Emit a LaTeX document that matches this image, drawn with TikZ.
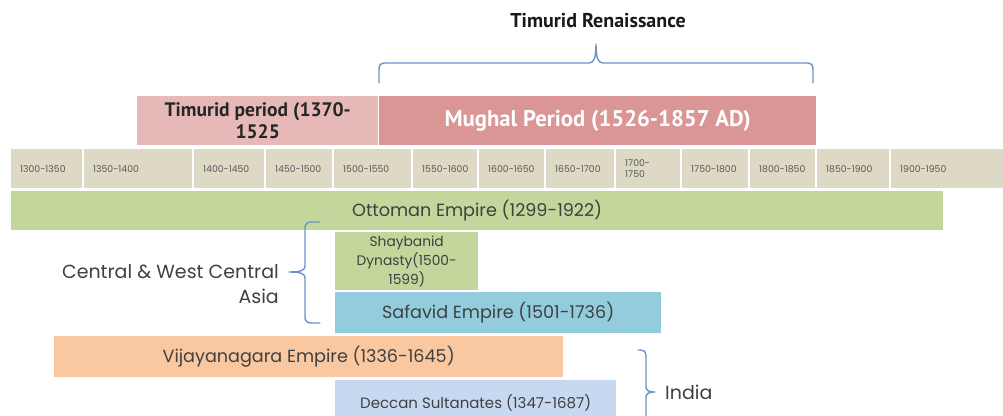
\documentclass[tikz,border=0pt]{standalone}
\usepackage{fontspec}
\setmainfont{Poppins}
\newfontfamily\headfont{PT Sans}
\exhyphenpenalty=10000
\hyphenpenalty=10000
\definecolor{txt}{HTML}{404040}
\definecolor{celltxt}{HTML}{595959}
\definecolor{cellfill}{HTML}{DDD9C4}
\definecolor{timfill}{HTML}{E6B9B8}
\definecolor{mugfill}{HTML}{D99695}
\definecolor{grnfill}{HTML}{C3D69B}
\definecolor{safill}{HTML}{93CDDD}
\definecolor{vijfill}{HTML}{F9C8A0}
\definecolor{decfill}{HTML}{C6D9F1}
\definecolor{bracec}{HTML}{6A93C8}
\tikzset{
  cell/.style={fill=cellfill, draw=none, anchor=north west, minimum height=39pt,
    inner xsep=9pt, inner ysep=0pt, align=left, text=celltxt,
    font=\fontsize{9.3}{10.5}\selectfont},
  bar/.style={draw=none, anchor=north west, inner sep=0pt, align=center, text=txt,
    font=\fontsize{17.6}{20}\selectfont},
  brc/.style={draw=bracec, line width=1.4pt, line cap=round, line join=round},
}
\begin{document}
\begin{tikzpicture}[x=1pt,y=-1pt]
\useasboundingbox (0,0) rectangle (1003,415);
\clip (0,0) rectangle (1003,415);
% timeline cells
\node[cell, text width=53pt] (c1) at (11,149) {1300-1350};
\node[cell, text width=90pt] (c2) at (84,149) {1350-1400};
\node[cell, text width=52pt] (c3) at (194,149) {1400-1450};
\node[cell, text width=48pt] (c4) at (266,149) {1450-1500};
\node[cell, text width=59pt] (c5) at (334,149) {1500-1550};
\node[cell, text width=46pt] (c6) at (413,149) {1550-1600};
\node[cell, text width=47pt] (c7) at (479,149) {1600-1650};
\node[cell, text width=50pt] (c8) at (546,149) {1650-1700};
\node[cell, text width=46pt] (c9) at (616,149) {1700-\\1750};
\node[cell, text width=48pt] (c10) at (682,149) {1750-1800};
\node[cell, text width=47pt] (c11) at (750,149) {1800-1850};
\node[cell, text width=54pt] (c12) at (817,149) {1850-1900};
\node[cell, text width=102pt] (c13) at (891,149) {1900-1950};
% top periods
\node[bar, fill=timfill, minimum width=241pt, minimum height=49pt, text=black!85,
  font=\headfont\bfseries\fontsize{19.5}{22}\selectfont] (timurid) at (137,96) {Timurid period (1370-\\1525};
\node[bar, fill=mugfill, minimum width=437pt, minimum height=49pt, text=white,
  font=\headfont\bfseries\fontsize{22.7}{24}\selectfont] (mughal) at (379,96) {Mughal Period (1526-1857 AD)};
\node[font=\headfont\bfseries\fontsize{20}{22}\selectfont, text=black!90, inner sep=0pt] (ren) at (598,21) {Timurid Renaissance};
% empires
\node[bar, fill=grnfill, minimum width=932pt, minimum height=39pt] (ottoman) at (11,191) {Ottoman Empire (1299-1922)};
\node[bar, fill=grnfill, minimum width=143pt, minimum height=58pt,
  font=\fontsize{13.8}{19}\selectfont] (shay) at (335,232) {Shaybanid\\Dynasty(1500-\\1599)};
\node[bar, fill=safill, minimum width=326pt, minimum height=41pt] (safavid) at (335,292) {Safavid Empire (1501-1736)};
\node[bar, fill=vijfill, minimum width=509pt, minimum height=41pt] (vijay) at (54,336) {Vijayanagara Empire (1336-1645)};
\node[bar, fill=decfill, minimum width=281pt, minimum height=45pt,
  font=\fontsize{15}{17}\selectfont] (deccan) at (335,380) {Deccan Sultanates (1347-1687)};
% region labels
\node[anchor=east, align=right, inner sep=0pt, text=txt, font=\fontsize{19}{25}\selectfont] (asia) at (279,284) {Central \& West Central\\Asia};
\node[anchor=west, inner sep=0pt, text=txt, font=\fontsize{19}{21}\selectfont] (india) at (665,392) {India};
% braces
\draw[brc] (379,83) -- (379,69) .. controls (379,65) and (381,63) .. (385,63)
  -- (589,63) .. controls (594,63) and (596,58) .. (596,44)
  .. controls (596,58) and (598,63) .. (603,63) -- (807,63)
  .. controls (811,63) and (813,65) .. (813,69) -- (813,83);
\draw[brc] (320,222) -- (311,222) .. controls (307,222) and (305,224) .. (305,228)
  -- (305,266) .. controls (305,270) and (302,272) .. (289,272)
  .. controls (302,272) and (305,274) .. (305,278) -- (305,317)
  .. controls (305,321) and (307,323) .. (311,323) -- (320,323);
\draw[brc] (638,350) -- (641,350) .. controls (644,350) and (646,352) .. (646,355)
  -- (646,387) .. controls (646,390) and (648,392) .. (655,392)
  .. controls (648,392) and (646,394) .. (646,397) -- (646,429)
  .. controls (646,432) and (644,434) .. (641,434) -- (638,434);
\end{tikzpicture}
\end{document}
